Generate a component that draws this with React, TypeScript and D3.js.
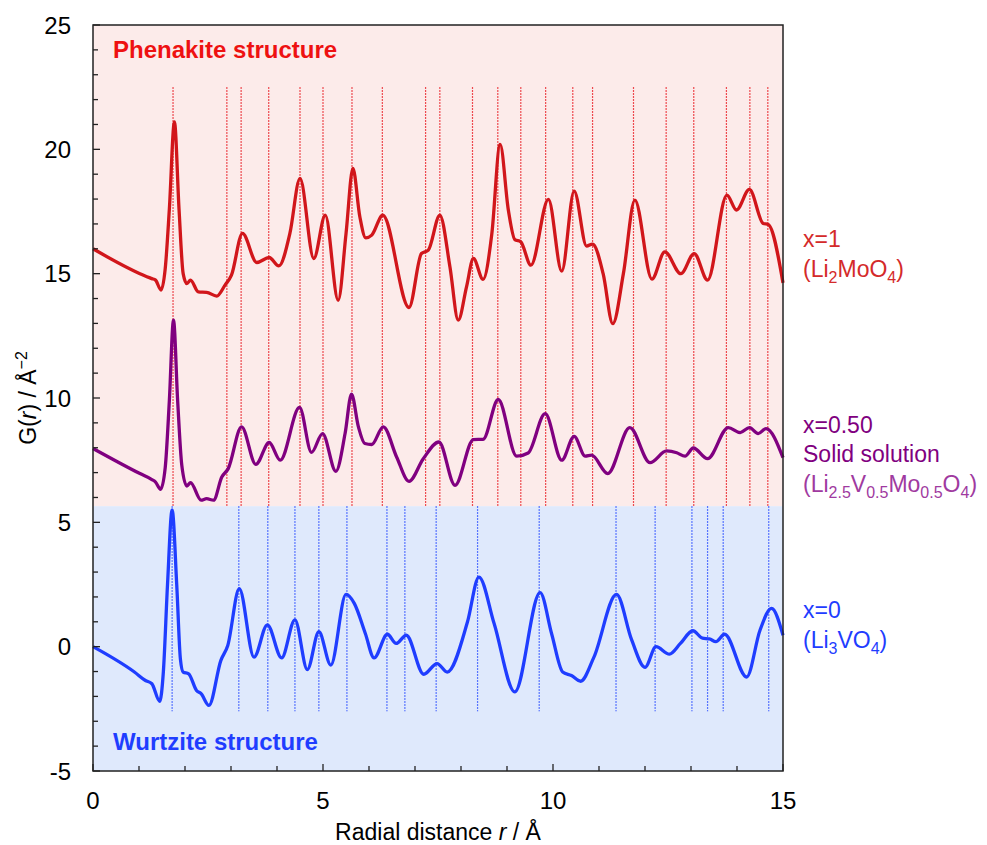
import React from "react";
import * as d3 from "d3";

// ---- Data (r in Å, G(r) in Å^-2) ----
const redR = [0, 1.02, 1.28, 1.36, 1.48, 1.57, 1.66, 1.77, 1.87, 1.96, 2.04, 2.12, 2.29, 2.47, 2.69, 2.87, 3.01, 3.25, 3.56, 3.83, 4.04, 4.28, 4.5, 4.8, 5.05, 5.33, 5.5, 5.65, 5.8, 5.93, 6.06, 6.3, 6.87, 7.14, 7.29, 7.54, 7.76, 7.94, 8.12, 8.27, 8.48, 8.67, 8.85, 9.03, 9.17, 9.3, 9.52, 9.9, 10.19, 10.46, 10.73, 10.86, 11.09, 11.3, 11.53, 11.78, 12.15, 12.43, 12.78, 13.07, 13.36, 13.78, 13.99, 14.27, 14.57, 14.68, 15.0];
const redG = [16.0, 15.0, 14.8, 14.74, 14.34, 15.2, 17.6, 21.1, 17.6, 15.0, 14.6, 14.74, 14.27, 14.25, 14.1, 14.54, 14.94, 16.62, 15.45, 15.65, 15.31, 16.62, 18.83, 15.61, 17.35, 13.93, 16.6, 19.23, 17.3, 16.44, 16.55, 17.35, 13.64, 15.81, 15.95, 17.35, 15.27, 13.13, 14.47, 15.61, 14.77, 16.6, 20.2, 17.55, 16.37, 16.28, 15.34, 17.99, 15.1, 18.32, 16.11, 16.19, 15.0, 12.99, 15.0, 17.96, 14.78, 15.88, 15.0, 15.81, 14.74, 18.16, 17.56, 18.39, 17.02, 16.98, 14.63];

const purpleR = [0, 1.02, 1.28, 1.36, 1.47, 1.57, 1.66, 1.75, 1.84, 1.93, 2.04, 2.12, 2.35, 2.47, 2.62, 2.8, 2.94, 3.23, 3.54, 3.83, 4.07, 4.49, 4.75, 4.99, 5.28, 5.48, 5.62, 5.77, 5.91, 6.06, 6.31, 6.6, 6.87, 7.18, 7.52, 7.87, 8.27, 8.48, 8.81, 9.21, 9.46, 9.83, 10.19, 10.46, 10.7, 10.84, 11.19, 11.67, 12.11, 12.47, 12.69, 12.87, 13.05, 13.36, 13.81, 14.07, 14.27, 14.46, 14.63, 15.0];
const purpleG = [7.97, 6.96, 6.72, 6.62, 6.33, 7.2, 9.9, 13.13, 9.9, 7.3, 6.46, 6.6, 5.89, 5.95, 5.89, 6.82, 7.16, 8.84, 7.33, 8.21, 7.5, 9.62, 7.81, 8.57, 7.05, 8.57, 10.15, 8.84, 8.17, 8.13, 8.84, 7.63, 6.65, 7.56, 8.23, 6.49, 8.33, 8.34, 9.94, 7.66, 7.79, 9.37, 7.5, 8.46, 7.66, 7.7, 6.96, 8.81, 7.4, 7.87, 7.8, 7.66, 7.99, 7.56, 8.81, 8.61, 8.81, 8.57, 8.77, 7.6];

const blueR = [0, 0.9, 1.14, 1.28, 1.45, 1.53, 1.62, 1.72, 1.82, 1.9, 1.96, 2.08, 2.25, 2.35, 2.52, 2.78, 2.93, 3.18, 3.5, 3.79, 4.1, 4.39, 4.66, 4.91, 5.17, 5.5, 5.68, 5.92, 6.11, 6.4, 6.59, 6.81, 7.19, 7.48, 7.7, 8.14, 8.39, 8.72, 9.17, 9.72, 9.97, 10.21, 10.4, 10.6, 10.89, 11.38, 11.71, 12.0, 12.24, 12.53, 12.77, 13.04, 13.25, 13.4, 13.54, 13.73, 14.21, 14.5, 14.75, 15.0];
const blueG = [0, -1.02, -1.36, -1.49, -2.2, -1.0, 2.5, 5.5, 2.5, -0.5, -1.02, -1.09, -1.76, -1.89, -2.36, -0.55, 0.05, 2.33, -0.42, 0.88, -0.45, 1.08, -0.92, 0.6, -0.74, 2.1, 1.74, 0.53, -0.45, 0.5, 0.13, 0.46, -1.11, -0.68, -1.02, 0.99, 2.8, 0.93, -1.82, 2.17, 0.52, -1.02, -1.16, -1.39, -0.42, 2.1, 0.27, -0.83, 0.0, -0.3, 0.13, 0.64, 0.34, 0.31, 0.2, 0.5, -1.22, 0.66, 1.54, 0.46];

// reference peak positions
const phenakiteLines = [1.74, 2.91, 3.22, 3.82, 4.5, 5.0, 5.63, 6.29, 7.23, 7.54, 8.25, 8.8, 9.3, 9.84, 10.43, 10.86, 11.75, 12.46, 13.06, 13.77, 14.28, 14.67];
const wurtziteLines = [1.72, 3.17, 3.8, 4.39, 4.91, 5.52, 6.39, 6.78, 7.46, 8.36, 9.7, 11.37, 12.22, 13.02, 13.36, 13.7, 14.69];

const yTicks = [25, 20, 15, 10, 5, 0, -5];
const xTicks = [0, 5, 10, 15];

const W = 987, H = 845;
const M = { left: 93, right: 783, top: 25, bottom: 771 };
const FONT = "'Liberation Sans', Arial, Helvetica, sans-serif";

export default function App() {
  const x = d3.scaleLinear().domain([0, 15]).range([M.left, M.right]);
  const y = d3.scaleLinear().domain([-5, 25]).range([M.bottom, M.top]);
  const line = d3
    .line<[number, number]>()
    .x((d) => x(d[0]))
    .y((d) => y(d[1]))
    .curve(d3.curveMonotoneX);
  const zip = (a: number[], b: number[]) => a.map((v, i) => [v, b[i]] as [number, number]);
  const split = 5.65;
  const minorY = d3.range(-5, 26, 1);
  const minorX = d3.range(0, 15.01, 1);
  const SUB = 16;
  const DY = 6;

  return (
    <svg width={W} height={H} style={{ position: "absolute", left: 0, top: 0, background: "#fff" }} fontFamily={FONT}>
      {/* backgrounds */}
      <rect x={M.left} y={M.top} width={M.right - M.left} height={y(split) - M.top} fill="#fcebea" />
      <rect x={M.left} y={y(split)} width={M.right - M.left} height={M.bottom - y(split)} fill="#dfe9fc" />

      {/* reference lines */}
      {phenakiteLines.map((r, i) => (
        <line key={"p" + i} x1={x(r)} x2={x(r)} y1={y(22.5)} y2={y(split)} stroke="#e8141c" strokeWidth={1.2} strokeDasharray="1.5,1.5" />
      ))}
      {wurtziteLines.map((r, i) => (
        <line key={"w" + i} x1={x(r)} x2={x(r)} y1={y(split)} y2={y(-2.6)} stroke="#2b4dff" strokeWidth={1.2} strokeDasharray="1.5,1.5" />
      ))}

      {/* curves */}
      <path d={line(zip(redR, redG)) || ""} fill="none" stroke="#d1161b" strokeWidth={3.3} strokeLinejoin="round" />
      <path d={line(zip(purpleR, purpleG)) || ""} fill="none" stroke="#800080" strokeWidth={3.3} strokeLinejoin="round" />
      <path d={line(zip(blueR, blueG)) || ""} fill="none" stroke="#1f3dff" strokeWidth={3.3} strokeLinejoin="round" />

      {/* frame */}
      <rect x={M.left} y={M.top} width={M.right - M.left} height={M.bottom - M.top} fill="none" stroke="#222" strokeWidth={1.5} />

      {/* ticks */}
      {minorY.map((v) => (
        <line key={"yt" + v} x1={M.left} x2={M.left + (v % 5 === 0 ? 7 : 5)} y1={y(v)} y2={y(v)} stroke="#222" strokeWidth={1.3} />
      ))}
      {minorX.map((v) => (
        <line key={"xt" + v} x1={x(v)} x2={x(v)} y1={M.bottom} y2={M.bottom - (v % 5 === 0 ? 7 : 5)} stroke="#222" strokeWidth={1.3} />
      ))}
      {yTicks.map((v) => (
        <text key={"yl" + v} x={71} y={y(v) + 8.5} textAnchor="end" fontSize={24} fill="#000">{v}</text>
      ))}
      {xTicks.map((v) => (
        <text key={"xl" + v} x={x(v)} y={808.5} textAnchor="middle" fontSize={24} fill="#000">{v}</text>
      ))}

      {/* axis titles */}
      <text x={(M.left + M.right) / 2} y={840} textAnchor="middle" fontSize={23} fill="#000">
        Radial distance <tspan fontStyle="italic">r</tspan> / Å
      </text>
      <text transform={`translate(36,${(M.top + M.bottom) / 2}) rotate(-90)`} textAnchor="middle" fontSize={23} fill="#000">
        G(<tspan fontStyle="italic">r</tspan>) / Å<tspan dy={-9} fontSize={16}>−2</tspan>
      </text>

      {/* region labels */}
      <text x={113} y={58} fontSize={24} fontWeight="bold" fill="#ee1111">Phenakite structure</text>
      <text x={113} y={750} fontSize={24} fontWeight="bold" fill="#1f3dff">Wurtzite structure</text>

      {/* series labels */}
      <g fontSize={23}>
        <text x={803} y={247} fill="#d42a2a">x=1</text>
        <text x={803} y={277} fill="#d42a2a">
          (Li<tspan dy={DY} fontSize={SUB}>2</tspan><tspan dy={-DY}>MoO</tspan><tspan dy={DY} fontSize={SUB}>4</tspan><tspan dy={-DY}>)</tspan>
        </text>
        <text x={803} y={433} fill="#800080">x=0.50</text>
        <text x={803} y={462} fill="#800080">Solid solution</text>
        <text x={803} y={492} fill="#a03aa0">
          (Li<tspan dy={DY} fontSize={SUB}>2.5</tspan><tspan dy={-DY}>V</tspan><tspan dy={DY} fontSize={SUB}>0.5</tspan><tspan dy={-DY}>Mo</tspan><tspan dy={DY} fontSize={SUB}>0.5</tspan><tspan dy={-DY}>O</tspan><tspan dy={DY} fontSize={SUB}>4</tspan><tspan dy={-DY}>)</tspan>
        </text>
        <text x={803} y={618} fill="#1f3dff">x=0</text>
        <text x={803} y={648} fill="#1f3dff">
          (Li<tspan dy={DY} fontSize={SUB}>3</tspan><tspan dy={-DY}>VO</tspan><tspan dy={DY} fontSize={SUB}>4</tspan><tspan dy={-DY}>)</tspan>
        </text>
      </g>
    </svg>
  );
}
